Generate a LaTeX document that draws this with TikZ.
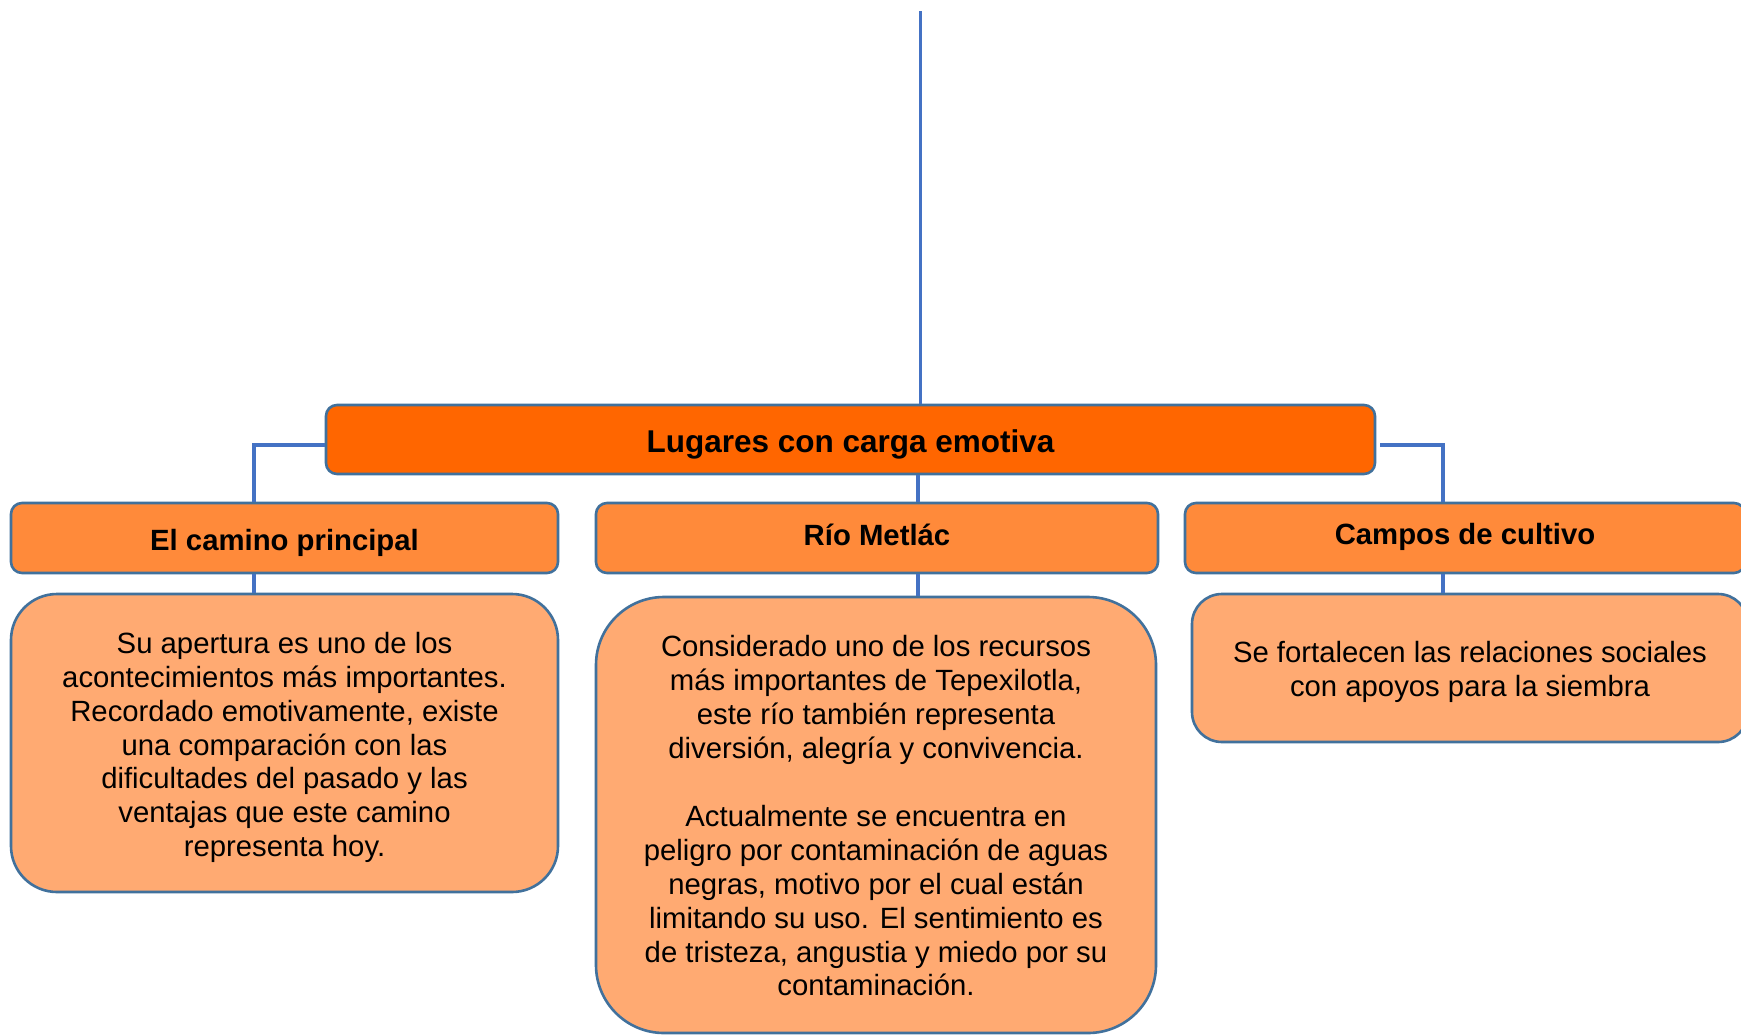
\documentclass[tikz,border=0pt]{standalone}
\usepackage{fontspec}
\setmainfont{Liberation Sans}
\definecolor{mainor}{HTML}{FF6600}
\definecolor{heador}{HTML}{FF8A3A}
\definecolor{textor}{HTML}{FFAA72}
\definecolor{bordc}{HTML}{41719C}
\definecolor{linec}{HTML}{4472C4}
\tikzset{
  mainbox/.style={draw=bordc, line width=2.6pt, fill=mainor, rounded corners=11pt, inner sep=0pt},
  headbox/.style={draw=bordc, line width=2.6pt, fill=heador, rounded corners=11pt, inner sep=0pt},
  txtbox/.style={draw=bordc, line width=2.6pt, fill=textor, inner sep=0pt},
  maintxt/.style={font=\fontsize{31.5}{36}\selectfont\bfseries, inner sep=0pt},
  headtxt/.style={font=\fontsize{29.3}{33.9}\selectfont\bfseries, inner sep=0pt},
  bodytxt/.style={font=\fontsize{29.3}{33.9}\selectfont, align=center, inner sep=0pt},
  conn/.style={draw=linec, line width=3.6pt},
}
\begin{document}
\begin{tikzpicture}[x=1pt,y=-1pt]
\useasboundingbox (0,0) rectangle (1741,1034);
\clip (0,0) rectangle (1741,1034);
\fill[white] (0,0) rectangle (1741,1034);
% boxes
\node[mainbox, minimum width=1049pt, minimum height=69pt] (main) at (850.5,439.5) {};
\node[headbox, minimum width=547pt, minimum height=70pt] (camino) at (284.5,538) {};
\node[headbox, minimum width=562pt, minimum height=70pt] (rio) at (877,538) {};
\node[headbox, minimum width=560pt, minimum height=70pt] (campos) at (1465,538) {};
\node[txtbox, rounded corners=46pt, minimum width=547pt, minimum height=298pt] (t1) at (284.5,743) {};
\node[txtbox, rounded corners=68pt, minimum width=560pt, minimum height=436pt] (t2) at (876,815) {};
\node[txtbox, rounded corners=30pt, minimum width=556pt, minimum height=148pt] (t3) at (1470,668) {};
% texts
\node[maintxt] (maintext) at (850.5,444) {Lugares con carga emotiva};
\node[headtxt] (caminotext) at (284.5,542.5) {El camino principal};
\node[headtxt] (riotext) at (877,534.8) {Río Metlác};
\node[headtxt] (campostext) at (1465,537) {Campos de cultivo};
\node[bodytxt] (t1text) at (284.5,747.5) {Su apertura es uno de los\\acontecimientos más importantes.\\Recordado emotivamente, existe\\una comparación con las\\dificultades del pasado y las\\ventajas que este camino\\representa hoy.};
\node[bodytxt] (t2text) at (876,816) {Considerado uno de los recursos\\más importantes de Tepexilotla,\\este río también representa\\diversión, alegría y convivencia.\\[33.9pt]Actualmente se encuentra en\\peligro por contaminación de aguas\\negras, motivo por el cual están\\limitando su uso. El sentimiento es\\de tristeza, angustia y miedo por su\\contaminación.};
\node[bodytxt] (t3text) at (1470,671.5) {Se fortalecen las relaciones sociales\\con apoyos para la siembra};
% connectors
\coordinate (topend) at (920.5,11);
\draw[conn] (topend) -- (main.north -| topend);
\draw[conn] (main.west |- 0,445) -- (254,445) -- (camino.north -| 254,0);
\coordinate (rstart) at (1380,445);
\draw[conn] (rstart) -- (1443,445) -- (campos.north -| 1443,0);
\draw[conn] (main.south -| 918,0) -- (rio.north -| 918,0);
\draw[conn] (camino.south -| 254,0) -- (t1.north -| 254,0);
\draw[conn] (rio.south -| 918,0) -- (t2.north -| 918,0);
\draw[conn] (campos.south -| 1443,0) -- (t3.north -| 1443,0);
\end{tikzpicture}
\end{document}
